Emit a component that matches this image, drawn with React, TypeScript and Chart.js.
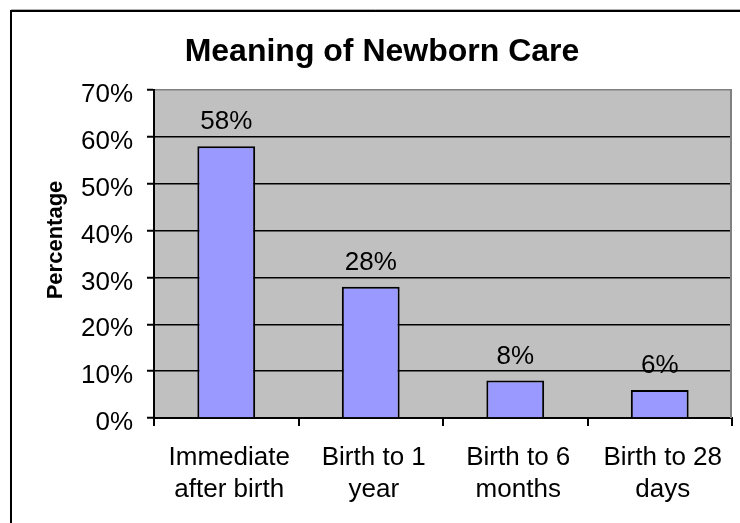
import React, { useEffect, useRef } from "react";
import { Chart, registerables } from "chart.js";

Chart.register(...registerables);

const FONT = "'Liberation Sans', Arial, Helvetica, sans-serif";

const chartTitle = "Meaning of Newborn Care";
const yAxisTitle = "Percentage";
const categories: string[][] = [
  ["Immediate", "after birth"],
  ["Birth to 1", "year"],
  ["Birth to 6", "months"],
  ["Birth to 28", "days"],
];
const percentages: number[] = [58, 28, 8, 6];
const yTickLabels: string[] = ["0%", "10%", "20%", "30%", "40%", "50%", "60%", "70%"];

// Gray plot background, plot frame, chart title, rotated axis title and outer frame
const decorations = {
  id: "decorations",
  beforeDraw(chart: any) {
    const { ctx, chartArea: a, width, height } = chart;
    ctx.save();
    ctx.fillStyle = "#ffffff";
    ctx.fillRect(0, 0, width, height);
    ctx.fillStyle = "#C0C0C0";
    ctx.fillRect(a.left, a.top, a.right - a.left, a.bottom - a.top);
    ctx.restore();
  },
  afterDraw(chart: any) {
    const { ctx, chartArea: a, width, height } = chart;
    ctx.save();
    // right edge of the plot
    ctx.strokeStyle = "#808080";
    ctx.lineWidth = 2;
    ctx.beginPath();
    ctx.moveTo(a.right - 1, a.top);
    ctx.lineTo(a.right - 1, a.bottom);
    ctx.stroke();

    // chart title
    ctx.fillStyle = "#000";
    ctx.font = `bold 32px ${FONT}`;
    ctx.textAlign = "center";
    ctx.textBaseline = "middle";
    ctx.fillText(chartTitle, 382, 52);

    // y axis title
    ctx.save();
    ctx.translate(56, 240);
    ctx.rotate(-Math.PI / 2);
    ctx.font = `bold 22px ${FONT}`;
    ctx.fillText(yAxisTitle, 0, 0);
    ctx.restore();

    // outer frame (top and left)
    ctx.strokeStyle = "#b0b0b0";
    ctx.lineWidth = 1;
    ctx.beginPath();
    ctx.moveTo(11, 9.5);
    ctx.lineTo(width, 9.5);
    ctx.stroke();
    ctx.strokeStyle = "#000";
    ctx.lineWidth = 2;
    ctx.beginPath();
    ctx.moveTo(11, height);
    ctx.lineTo(11, 11);
    ctx.lineTo(width, 11);
    ctx.stroke();
    ctx.restore();
  },
};

// Value labels above each bar
const valueLabels = {
  id: "valueLabels",
  afterDatasetsDraw(chart: any) {
    const { ctx } = chart;
    const meta = chart.getDatasetMeta(0);
    ctx.save();
    ctx.fillStyle = "#000";
    ctx.font = `26px ${FONT}`;
    ctx.textAlign = "center";
    ctx.textBaseline = "middle";
    meta.data.forEach((bar: any, i: number) => {
      ctx.fillText(`${percentages[i]}%`, bar.x, bar.y - 24);
    });
    ctx.restore();
  },
};

export default function App() {
  const canvasRef = useRef<HTMLCanvasElement | null>(null);

  useEffect(() => {
    if (!canvasRef.current) return;
    Chart.defaults.font.family = FONT;
    const chart = new Chart(canvasRef.current, {
      type: "bar",
      data: {
        labels: categories,
        datasets: [
          {
            data: percentages,
            backgroundColor: "#9999FF",
            borderColor: "#000000",
            borderWidth: 2,
            barPercentage: 0.4,
            categoryPercentage: 1,
          },
        ],
      },
      options: {
        responsive: false,
        animation: false,
        devicePixelRatio: 1,
        layout: { padding: { top: 90, right: 8, bottom: 0, left: 0 } },
        plugins: {
          legend: { display: false },
          title: { display: false },
          tooltip: { enabled: false },
        },
        scales: {
          x: {
            offset: true,
            grid: {
              offset: true,
              drawOnChartArea: false,
              drawTicks: true,
              tickLength: 8,
              color: "#000",
              lineWidth: 2,
            },
            border: { display: true, color: "#000", width: 2 },
            ticks: {
              color: "#000",
              font: { family: FONT, size: 26, lineHeight: 1.23 },
              padding: 16,
              labelOffset: 3,
              maxRotation: 0,
              autoSkip: false,
            },
            afterFit: (s: any) => {
              s.height = 105;
            },
          },
          y: {
            min: 0,
            max: 70,
            ticks: {
              stepSize: 10,
              color: "#000",
              font: { family: FONT, size: 26 },
              padding: 14,
              labelOffset: 5,
              callback: (_v: any, i: number) => yTickLabels[i],
            },
            grid: {
              color: (c: any) => (c.tick && c.tick.value === 70 ? "#808080" : "#000"),
              lineWidth: 1.5,
              tickLength: 7,
              tickColor: "#000",
              tickWidth: 2,
            },
            border: { display: true, color: "#000", width: 2 },
            afterFit: (s: any) => {
              s.width = 154;
            },
          },
        },
      },
      plugins: [decorations, valueLabels],
    });
    return () => chart.destroy();
  }, []);

  return (
    <div style={{ position: "absolute", left: 0, top: 0, width: 740, height: 523, background: "#fff" }}>
      <canvas ref={canvasRef} width={740} height={523} style={{ display: "block" }} />
    </div>
  );
}
